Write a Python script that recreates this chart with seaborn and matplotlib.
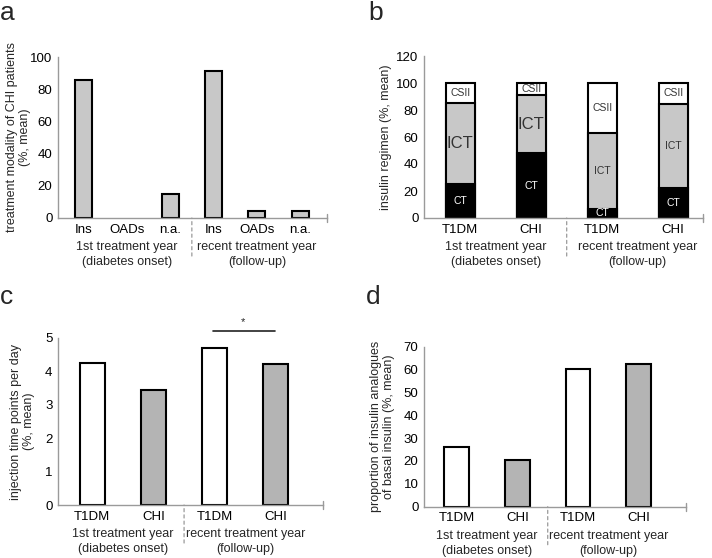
import matplotlib
matplotlib.use("Agg")
import matplotlib.pyplot as plt
import seaborn as sns
import pandas as pd

sns.set_theme(style="white")
plt.rcParams['font.family'] = ['Liberation Sans', 'DejaVu Sans']

# ---------------- data ----------------
a_keys = ["Ins1", "OADs1", "na1", "Ins2", "OADs2", "na2"]
a_labels = ["Ins", "OADs", "n.a.", "Ins", "OADs", "n.a."]
a_values = [85.5, 0, 15, 91, 4.5, 4.5]

b_keys = ["T1DM_1", "CHI_1", "T1DM_2", "CHI_2"]
b_labels = ["T1DM", "CHI", "T1DM", "CHI"]
b_ct = [25, 48, 7, 22]
b_ict = [60, 43, 56, 62.5]
b_csii = [15, 9, 37, 15.5]

c_keys = ["T1DM_1", "CHI_1", "T1DM_2", "CHI_2"]
c_labels = ["T1DM", "CHI", "T1DM", "CHI"]
c_values = [4.24, 3.45, 4.71, 4.21]

d_values = [26.3, 20.3, 60.4, 62.3]

groups = [("1st treatment year", "(diabetes onset)"),
          ("recent treatment year", "(follow-up)")]

FS = 9
GRAY_A = "#c8c8c8"
GRAY_C = "#b4b4b4"
SPINE = "#9a9a9a"

fig = plt.figure(figsize=(7.12, 5.58), dpi=100)
W, H = 712, 558


def add_ax(left, right, top, bottom):
    return fig.add_axes([left / W, 1 - bottom / H, (right - left) / W, (bottom - top) / H])


def style(ax, xlim, ylim, yticks, labels, group_centers, sep_x):
    ax.set_xlim(*xlim)
    ax.set_ylim(*ylim)
    ax.set_yticks(yticks)
    ax.set_xticks(range(len(labels)))
    ax.set_xticklabels(labels, fontsize=FS + 0.5)
    ax.tick_params(axis='y', length=0, pad=4, labelsize=FS + 0.5, colors="black")
    ax.tick_params(axis='x', length=0, pad=4, labelsize=FS + 0.5, colors="black")
    for s in ["top", "right"]:
        ax.spines[s].set_visible(False)
    for s in ["left", "bottom"]:
        ax.spines[s].set_color(SPINE)
        ax.spines[s].set_linewidth(1.0)
    ax.set_xlabel("")
    for p in ax.patches:
        if p.get_height() == 0:
            p.set_visible(False)
    # right-end tick
    ax.plot([1, 1], [-0.025, 0.025], transform=ax.transAxes, color=SPINE,
            lw=1.0, clip_on=False)
    tr = ax.get_xaxis_transform()
    for xc, (l1, l2) in zip(group_centers, groups):
        ax.annotate(l1, xy=(xc, 0), xycoords=tr, xytext=(0, -29 * 0.72),
                    textcoords='offset points', ha='center', va='center', fontsize=FS)
        ax.annotate(l2, xy=(xc, 0), xycoords=tr, xytext=(0, -44 * 0.72),
                    textcoords='offset points', ha='center', va='center', fontsize=FS)
    # dashed separator
    ax.annotate("", xy=(sep_x, 0), xycoords=tr, xytext=(0, -38 * 0.72),
                textcoords='offset points',
                arrowprops=dict(arrowstyle="-", color="#999999", lw=0.9,
                                linestyle=(0, (2.5, 2.5)), shrinkA=0, shrinkB=0))


def set_ylab(ax, text, right_px, left_px, width_px):
    ax.set_ylabel(text, fontsize=FS, linespacing=1.15)
    ax.yaxis.set_label_coords((right_px - left_px) / width_px, 0.5)


def letter(ax_x, ax_y, s):
    fig.text(ax_x / W, 1 - ax_y / H, s, fontsize=19, ha='left', va='center')


# ---------------- panel a ----------------
ax_a = add_ax(58, 327, 57, 218)
df_a = pd.DataFrame({"k": a_keys, "v": a_values})
sns.barplot(data=df_a, x="k", y="v", order=a_keys, color=GRAY_A, saturation=1,
            width=0.39, edgecolor="black", linewidth=1.5, ax=ax_a)
style(ax_a, (-0.59, 5.62), (0, 100), [0, 20, 40, 60, 80, 100], a_labels, [1, 4], 2.5)
set_ylab(ax_a, "treatment modality of CHI patients\n(%, mean)", 31, 58, 269)
letter(0, 13, "a")

# ---------------- panel b ----------------
ax_b = add_ax(424, 703, 56, 218)
cum_ict = [c + i for c, i in zip(b_ct, b_ict)]
cum_all = [c + i + s for c, i, s in zip(b_ct, b_ict, b_csii)]
for vals, col in [(cum_all, "white"), (cum_ict, GRAY_A), (b_ct, "black")]:
    df_b = pd.DataFrame({"k": b_keys, "v": vals})
    sns.barplot(data=df_b, x="k", y="v", order=b_keys, color=col, saturation=1,
                width=0.41, edgecolor="black", linewidth=1.5, ax=ax_b)
style(ax_b, (-0.51, 3.42), (0, 120), [0, 20, 40, 60, 80, 100, 120], b_labels, [0.5, 2.5], 1.5)
set_ylab(ax_b, "insulin regimen (%, mean)", 392, 424, 279)
ict_sizes = [12, 12, 7.5, 7.5]
for i in range(4):
    ax_b.text(i, b_ct[i] / 2, "CT", color="white", ha='center', va='center', fontsize=7.5)
    ax_b.text(i, b_ct[i] + b_ict[i] / 2, "ICT", color="#333333", ha='center', va='center',
              fontsize=ict_sizes[i])
    ax_b.text(i, cum_ict[i] + b_csii[i] / 2, "CSII", color="#333333", ha='center',
              va='center', fontsize=7.5)
letter(368, 13, "b")

# ---------------- panel c ----------------
ax_c = add_ax(58, 323, 338, 505)
df_c = pd.DataFrame({"k": c_keys, "v": c_values})
sns.barplot(data=df_c, x="k", y="v", order=c_keys, hue="k", palette=["white", GRAY_C, "white", GRAY_C],
            saturation=1, legend=False, width=0.41, edgecolor="black", linewidth=1.5, ax=ax_c)
style(ax_c, (-0.56, 3.77), (0, 5), [0, 1, 2, 3, 4, 5], c_labels, [0.5, 2.5], 1.5)
set_ylab(ax_c, "injection time points per day\n(%, mean)", 35, 58, 265)
ax_c.plot([1.97, 2.98], [5.22, 5.22], color="#222222", lw=1.2, clip_on=False)
ax_c.text(2.47, 5.33, "*", ha='center', va='bottom', fontsize=8, clip_on=False)
letter(0, 297, "c")

# ---------------- panel d ----------------
ax_d = add_ax(424, 686, 346.7, 506.7)
df_d = pd.DataFrame({"k": c_keys, "v": d_values})
sns.barplot(data=df_d, x="k", y="v", order=c_keys, hue="k", palette=["white", GRAY_C, "white", GRAY_C],
            saturation=1, legend=False, width=0.41, edgecolor="black", linewidth=1.5, ax=ax_d)
style(ax_d, (-0.54, 3.78), (0, 70), [0, 10, 20, 30, 40, 50, 60, 70], c_labels, [0.5, 2.5], 1.5)
set_ylab(ax_d, "proportion of insulin analogues\nof basal insulin (%, mean)", 395, 424, 262)
letter(366, 297, "d")

fig.savefig("out.png", dpi=100)
